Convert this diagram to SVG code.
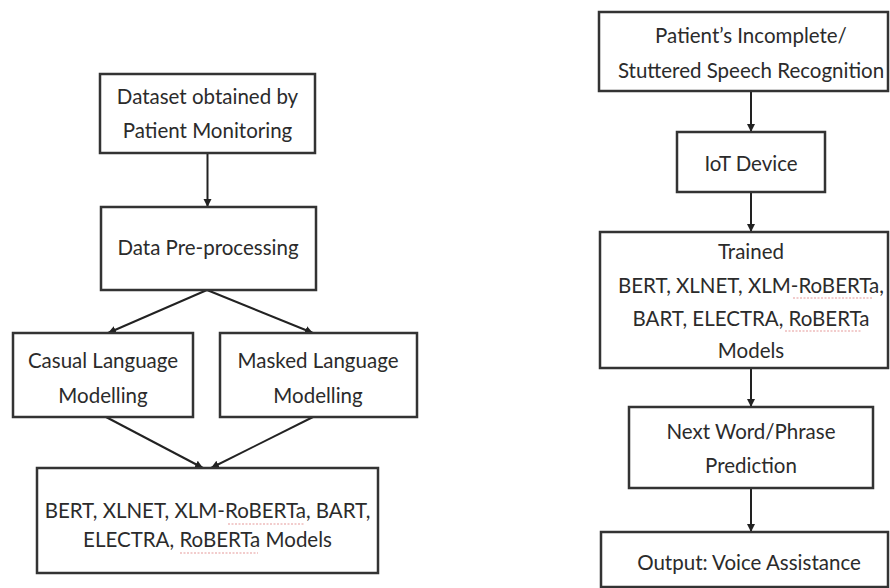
<svg xmlns="http://www.w3.org/2000/svg" width="890" height="588" viewBox="0 0 890 588">
<defs>
<style>
.box{fill:#ffffff;stroke:#333333;stroke-width:2.5}
.t{font-family:Lato,"Liberation Sans",sans-serif;font-size:20.5px;fill:#2b2b2b;text-anchor:middle}
.c{stroke:#222222;stroke-width:2;fill:none}
.sq{stroke:#e59a9a;stroke-width:1.2;fill:none;stroke-dasharray:2 1.5}
</style>
<marker id="ah" markerUnits="userSpaceOnUse" markerWidth="9" markerHeight="9" refX="8" refY="4" orient="auto">
<path d="M0,0 L8,4 L0,8 z" fill="#222222"/>
</marker>
</defs>
<rect width="890" height="588" fill="#ffffff"/>
<g id="connectors">
<line class="c" x1="207.5" y1="153" x2="207.5" y2="207" marker-end="url(#ah)"/>
<line class="c" x1="207" y1="290" x2="108" y2="333" marker-end="url(#ah)"/>
<line class="c" x1="207" y1="290" x2="313" y2="333" marker-end="url(#ah)"/>
<line class="c" x1="106" y1="417" x2="203" y2="468" marker-end="url(#ah)"/>
<line class="c" x1="313" y1="417" x2="211" y2="468" marker-end="url(#ah)"/>
<line class="c" x1="751" y1="91" x2="751" y2="132" marker-end="url(#ah)"/>
<line class="c" x1="751" y1="192" x2="751" y2="232" marker-end="url(#ah)"/>
<line class="c" x1="751" y1="368" x2="751" y2="407" marker-end="url(#ah)"/>
<line class="c" x1="751" y1="488" x2="751" y2="532" marker-end="url(#ah)"/>
</g>
<g id="dataset">
<rect class="box" x="100" y="74" width="215" height="79"/>
<text class="t" x="207.5" y="104">Dataset obtained by</text>
<text class="t" x="207.5" y="138">Patient Monitoring</text>
</g>
<g id="preprocessing">
<rect class="box" x="101" y="207" width="215" height="83"/>
<text class="t" x="208" y="255">Data Pre-processing</text>
</g>
<g id="casual">
<rect class="box" x="13" y="333" width="180" height="84"/>
<text class="t" x="103" y="368">Casual Language</text>
<text class="t" x="103" y="403">Modelling</text>
</g>
<g id="masked">
<rect class="box" x="220" y="333" width="197" height="84"/>
<text class="t" x="318" y="368">Masked Language</text>
<text class="t" x="318" y="403">Modelling</text>
</g>
<g id="models">
<rect class="box" x="37" y="468" width="341" height="105"/>
<text class="t" x="207.5" y="518">BERT, XLNET, XLM-RoBERTa, BART,</text>
<text class="t" x="207.5" y="547">ELECTRA, RoBERTa Models</text>
<path class="sq" d="M228,524 L305,524"/>
<path class="sq" d="M180,553 L258,553"/>
</g>
<g id="speech">
<rect class="box" x="599" y="12" width="289" height="79"/>
<text class="t" x="751" y="43">Patient’s Incomplete/</text>
<text class="t" x="751" y="78">Stuttered Speech Recognition</text>
</g>
<g id="iot">
<rect class="box" x="677" y="132" width="148" height="60"/>
<text class="t" x="751" y="171">IoT Device</text>
</g>
<g id="trained">
<rect class="box" x="600" y="232" width="288" height="136"/>
<text class="t" x="751" y="259">Trained</text>
<text class="t" x="751" y="293">BERT, XLNET, XLM-RoBERTa,</text>
<text class="t" x="751" y="326">BART, ELECTRA, RoBERTa</text>
<text class="t" x="751" y="358">Models</text>
<path class="sq" d="M793,298 L873,298"/>
<path class="sq" d="M785,331 L862,331"/>
</g>
<g id="prediction">
<rect class="box" x="629" y="407" width="244" height="81"/>
<text class="t" x="751" y="439">Next Word/Phrase</text>
<text class="t" x="751" y="473">Prediction</text>
</g>
<g id="output">
<rect class="box" x="601" y="532" width="287" height="55"/>
<text class="t" x="749" y="570">Output: Voice Assistance</text>
</g>
</svg>
